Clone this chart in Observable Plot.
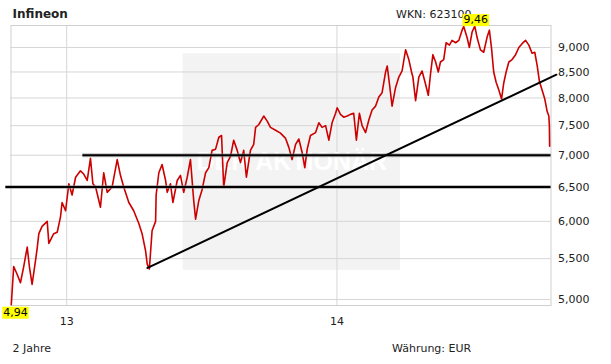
<!DOCTYPE html>
<html><head><meta charset="utf-8">
<script src="https://cdn.jsdelivr.net/npm/d3@7"></script>
<script src="https://cdn.jsdelivr.net/npm/@observablehq/plot@0.6"></script>
<style>
body{margin:0;background:#fff;}
#chart{position:relative;width:611px;height:364px;}
</style></head><body><div id="chart"></div>
<script>
// time as decimal years, prices in EUR
const years = [
2012.795, 2012.804, 2012.817, 2012.829, 2012.841, 2012.854, 2012.862, 2012.872, 2012.885, 2012.891, 2012.897, 2012.909, 2012.928, 2012.934, 2012.952, 2012.965, 2012.977, 2012.983, 2012.996,
2013.008, 2013.020, 2013.033, 2013.051, 2013.063, 2013.076, 2013.088, 2013.097, 2013.107, 2013.125, 2013.137, 2013.150, 2013.168, 2013.187, 2013.199, 2013.211, 2013.230, 2013.248, 2013.267, 2013.279, 2013.292, 2013.298, 2013.306, 2013.316, 2013.329,
2013.331, 2013.341, 2013.353, 2013.366, 2013.372, 2013.384, 2013.393, 2013.409, 2013.421, 2013.433, 2013.446, 2013.458, 2013.470, 2013.477, 2013.489, 2013.501, 2013.514, 2013.526, 2013.538, 2013.551, 2013.563, 2013.573, 2013.581, 2013.594, 2013.606, 2013.618, 2013.631, 2013.643, 2013.655, 2013.665, 2013.680, 2013.692, 2013.699, 2013.711, 2013.729, 2013.742, 2013.754, 2013.773, 2013.791, 2013.810, 2013.822, 2013.834, 2013.847, 2013.859, 2013.871, 2013.881, 2013.890, 2013.902, 2013.921, 2013.933, 2013.945, 2013.958, 2013.970, 2013.982, 2013.995,
2014.001, 2014.013, 2014.025, 2014.038, 2014.050, 2014.062, 2014.072, 2014.083, 2014.093, 2014.106, 2014.118, 2014.130, 2014.143, 2014.155, 2014.167, 2014.180, 2014.186, 2014.194, 2014.204, 2014.217, 2014.229, 2014.241, 2014.254, 2014.266, 2014.276, 2014.281, 2014.291, 2014.303, 2014.315, 2014.326, 2014.338, 2014.346, 2014.355, 2014.365, 2014.375, 2014.383, 2014.395, 2014.404, 2014.416, 2014.426, 2014.439, 2014.451, 2014.463, 2014.469, 2014.482, 2014.490, 2014.500, 2014.510, 2014.519, 2014.531, 2014.543, 2014.556, 2014.564, 2014.572, 2014.580, 2014.589, 2014.599, 2014.609, 2014.617, 2014.626, 2014.636, 2014.648, 2014.661, 2014.673, 2014.685, 2014.698, 2014.710, 2014.722, 2014.732, 2014.741, 2014.749, 2014.759, 2014.769, 2014.778, 2014.784, 2014.786, 2014.787
];
const prices = [
4.94, 5.40, 5.30, 5.20, 5.40, 5.65, 5.40, 5.18, 5.48, 5.64, 5.83, 5.93, 6.00, 5.70, 5.83, 5.85, 6.06, 6.27, 6.15,
6.55, 6.38, 6.65, 6.75, 6.70, 6.60, 6.95, 6.55, 6.50, 6.20, 6.72, 6.42, 6.50, 6.93, 6.68, 6.50, 6.27, 6.15, 5.97, 5.83, 5.60, 5.43, 5.37, 5.87, 6.00,
6.38, 6.72, 6.85, 6.60, 6.42, 6.55, 6.27, 6.60, 6.68, 6.42, 6.65, 6.93, 6.30, 6.03, 6.30, 6.46, 6.72, 6.80, 7.08, 7.10, 7.30, 7.33, 6.50, 6.88, 6.98, 7.25, 7.08, 6.88, 7.08, 6.65, 7.08, 7.18, 7.47, 7.52, 7.67, 7.58, 7.47, 7.42, 7.37, 7.28, 7.13, 6.93, 7.18, 7.27, 7.05, 6.80, 7.10, 7.33, 7.38, 7.55, 7.47, 7.50, 7.25, 7.55, 7.72,
7.82, 7.70, 7.65, 7.67, 7.70, 7.72, 7.25, 7.72, 7.50, 7.38, 7.60, 7.78, 7.85, 8.02, 8.10, 8.50, 8.62, 8.28, 7.85, 8.20, 8.40, 8.52, 8.95, 8.75, 8.50, 8.40, 7.95, 8.40, 8.52, 8.30, 8.05, 8.45, 8.85, 8.70, 8.50, 8.70, 8.75, 9.10, 9.05, 9.15, 9.10, 9.15, 9.37, 9.45, 9.20, 9.00, 9.33, 9.46, 9.20, 8.95, 8.90, 9.23, 9.37, 8.98, 8.50, 8.30, 8.15, 7.98, 8.28, 8.50, 8.70, 8.75, 8.85, 9.00, 9.08, 9.15, 9.05, 8.88, 8.90, 8.62, 8.32, 8.15, 7.98, 7.75, 7.67, 7.50, 7.15
];
const yTicks = [5, 5.5, 6, 6.5, 7, 7.5, 8, 8.5, 9];
const xTicks = [2013, 2014];
const supportLevels = [6.5, 7.0];
const supportStarts = [2012.775, 2013.060];
const supportEnd = 2014.792;
const trendYears = [2013.299, 2014.812];
const trendValues = [5.382, 8.446];
const boxYears = [2013.431, 2014.235];
const boxValues = [5.353, 8.869];
const watermarkValue = 6.885;
const watermark = "DER AKTIONÄR";
const title = "Infineon";
const wkn = "WKN: 623100";
const period = "2 Jahre";
const currency = "Währung: EUR";

const series = years.map((x, i) => ({x, y: prices[i]}));
const support = supportLevels.map((y, i) => ({x1: supportStarts[i], x2: supportEnd, y}));
const trend = trendYears.map((x, i) => ({x, y: trendValues[i]}));
const box = [{x1: boxYears[0], x2: boxYears[1], y1: boxValues[0], y2: boxValues[1]}];
const iMax = d3.maxIndex(prices), iMin = d3.minIndex(prices);
const fmt2 = v => v.toFixed(2).replace(".", ",");
const fmt3 = v => v.toFixed(3).replace(".", ",");
const HL = "#010101";

const plot = Plot.plot({
  width: 611, height: 364,
  marginTop: 25, marginBottom: 59, marginLeft: 10.5, marginRight: 60.5,
  style: {fontFamily: "DejaVu Sans", fontSize: "11px", color: "#222", background: "#fff"},
  x: {type: "linear", domain: [2012.794, 2014.792]},
  y: {type: "log", domain: [4.931, 9.473]},
  marks: [
    Plot.rect(box, {x1: "x1", x2: "x2", y1: "y1", y2: "y2", fill: "#f3f3f3"}),
    Plot.gridY(yTicks, {stroke: "#d6d6d6", strokeOpacity: 1}),
    Plot.gridX(xTicks, {stroke: "#d6d6d6", strokeOpacity: 1}),
    Plot.frame({stroke: "#cfcfcf"}),
    Plot.text([{x: (boxYears[0] + boxYears[1]) / 2, y: watermarkValue}], {x: "x", y: "y", text: () => watermark, fill: "#fff", fontSize: 25, fontWeight: "bold", fontFamily: "Liberation Sans"}),
    Plot.line(series, {x: "x", y: "y", stroke: "#cc0000", strokeWidth: 1.6}),
    Plot.ruleY(support, {x1: "x1", x2: "x2", y: "y", stroke: "#888", strokeWidth: 4, strokeOpacity: 0.55}),
    Plot.ruleY(support, {x1: "x1", x2: "x2", y: "y", stroke: "#000", strokeWidth: 2}),
    Plot.line(trend, {x: "x", y: "y", stroke: "#000", strokeWidth: 2}),
    Plot.axisY(yTicks, {anchor: "right", tickSize: 0, tickPadding: 7, tickFormat: fmt3, label: null, fill: "#222"}),
    Plot.axisX(xTicks, {anchor: "bottom", tickSize: 0, tickPadding: 12, tickFormat: d => String(d).slice(2), label: null, fill: "#222"}),
    Plot.text([series[iMax]], {x: "x", y: "y", text: d => fmt2(d.y), dx: 1, dy: -6.5, fill: HL, fontSize: 11}),
    Plot.text([series[iMin]], {x: "x", y: "y", text: d => fmt2(d.y), dx: -8, dy: 7.5, textAnchor: "start", fill: HL, fontSize: 11})
  ]
});
document.getElementById("chart").append(plot);

const svg = d3.select(plot);
// yellow backgrounds for the extreme labels
svg.selectAll(`g[fill="${HL}"] text`).each(function() {
  const b = this.getBBox();
  d3.select(this.parentNode).insert("rect", () => this)
    .attr("x", b.x - 1).attr("y", b.y + 1).attr("width", b.width + 2).attr("height", b.height - 1)
    .attr("transform", this.getAttribute("transform"))
    .attr("fill", "#ffff00");
});
// header / footer texts (WKN drawn first so the max label sits over it)
function addText(sel, x, y, str, size, weight) {
  return sel.attr("x", x).attr("y", y).attr("text-anchor", "start")
    .attr("font-family", "DejaVu Sans").attr("font-size", size)
    .attr("font-weight", weight || "normal").attr("fill", "#222").text(str);
}
addText(svg.insert("text", ":first-child"), 396, 18, wkn, 11);
addText(svg.append("text"), 12.5, 17.5, title, 12, "bold");
addText(svg.append("text"), 12.5, 351.5, period, 11);
addText(svg.append("text"), 392, 351.5, currency, 11);
</script></body></html>
